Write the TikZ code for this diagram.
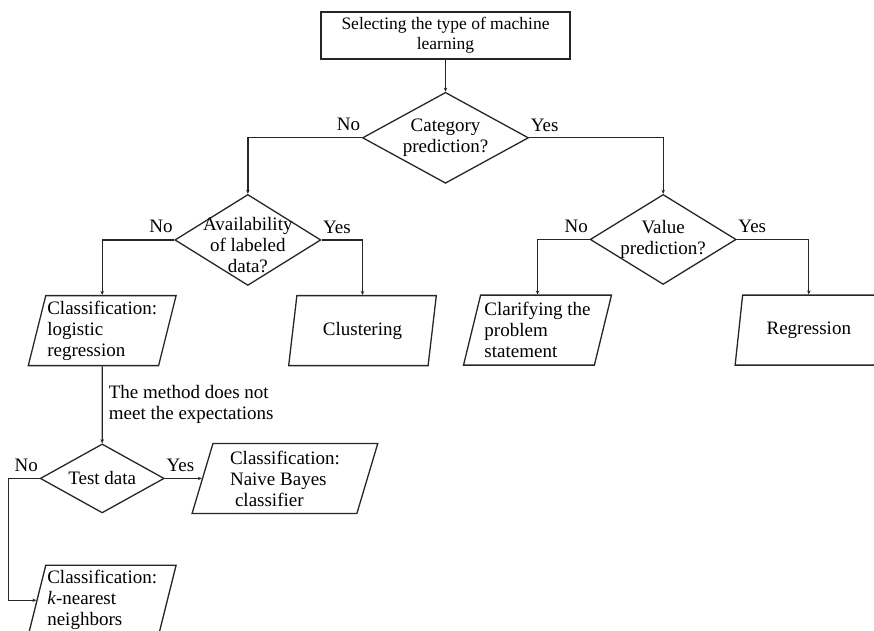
\documentclass[tikz,border=0pt]{standalone}
\usepackage{fontspec}
\setmainfont{Liberation Serif}
\usepackage{tikz}
\usetikzlibrary{shapes.geometric, arrows.meta, positioning}
\tikzset{
    caja_inicio/.style={rectangle, draw=black!85, line width=1.3pt, minimum width=249pt, minimum height=47pt, inner sep=0pt, align=center, font=\fontsize{17.5}{20}\selectfont},
    rombo/.style={diamond, draw=black!85, line width=1.3pt, inner sep=0pt, minimum width=146pt, minimum height=91pt},
    texto_rombo/.style={align=center, inner sep=0pt},
    caja_datos/.style={trapezium, trapezium left angle=74, trapezium right angle=106, trapezium stretches=true, draw=black!85, line width=1.3pt, minimum width=148pt, minimum height=70pt, inner sep=0pt, align=left},
    flecha/.style={draw=black!85, -{Stealth[length=4pt, width=3.5pt]}, line width=1.3pt},
    etiqueta_no/.style={anchor=base east, inner sep=0pt, xshift=-1pt, yshift=7pt},
    etiqueta_si/.style={anchor=base west, inner sep=0pt, xshift=1pt, yshift=6.5pt}
}
\begin{document}
\begin{tikzpicture}[x=1pt, y=1pt, font=\fontsize{19}{21}\selectfont]
    \useasboundingbox (0,0) rectangle (874,-630);

    % 1. Caja de inicio
    \node[caja_inicio] (sel) at (445.5,-35.5) {Selecting the type of machine\\learning};

    % 2. Primera decision
    \node[rombo, minimum width=166pt, below=32pt of sel,
          label={[texto_rombo]center:Category\\prediction?}] (cat) {};

    % 3. Segundo nivel de decisiones
    \node[rombo, below=56pt of cat.west, xshift=-114pt,
          label={[texto_rombo, yshift=-5pt]center:Availability\\of labeled\\data?}] (avail) {};
    \node[rombo, minimum height=90pt, below=56pt of cat.east, xshift=134pt,
          label={[texto_rombo]center:Value\\prediction?}] (value) {};

    % 4. Resultados (fila del medio)
    \node[caja_datos, below=55pt of avail.west, xshift=-72pt] (logistic) {Classification:\\logistic\\regression};
    \node[caja_datos, below=55pt of avail.east, xshift=41pt] (cluster) {Clustering};
    \node[caja_datos, below=55pt of value.west, xshift=-52pt] (clarify) {Clarifying the\\problem\\statement};
    \node[caja_datos, below=55pt of value.east, xshift=72pt] (regress) {Regression};

    % 5. Prueba y clasificadores alternativos
    \node[rombo, minimum width=124pt, minimum height=69pt, below=77pt of logistic,
          label={[texto_rombo]center:Test data}] (test) {};
    \node[caja_datos, minimum width=186pt, right=37pt of test] (bayes) {Classification:\\Naive Bayes\\\hspace{5pt}classifier};
    \node[caja_datos, below=51pt of test] (knn) {Classification:\\\textit{k}-nearest\\neighbors};

    % --- CONEXIONES ---
    \draw[flecha] (sel) -- (cat);

    \draw[flecha] (cat.west) -| node[etiqueta_no, pos=0]{No} (avail.north);
    \draw[flecha] (cat.east) -| node[etiqueta_si, pos=0]{Yes} (value.north);

    \draw[flecha] (avail.west) -| node[etiqueta_no, pos=0]{No} (logistic.north);
    \draw[flecha] (avail.east) -| node[etiqueta_si, pos=0]{Yes} (cluster.north);

    \draw[flecha] (value.west) -| node[etiqueta_no, pos=0]{No} (clarify.north);
    \draw[flecha] (value.east) -| node[etiqueta_si, pos=0]{Yes} (regress.north);

    % Rama de la regresion logistica
    \draw[flecha] (logistic) -- node[right, align=left, inner sep=0pt, xshift=6pt]{The method does not\\meet the expectations} (test);
    \draw[flecha] (test.east) -- node[etiqueta_si, pos=0]{Yes} (bayes.west);
    \draw[flecha] (test.west) -- node[etiqueta_no, pos=0]{No} ++(-31,0) |- (knn.west);

\end{tikzpicture}
\end{document}
